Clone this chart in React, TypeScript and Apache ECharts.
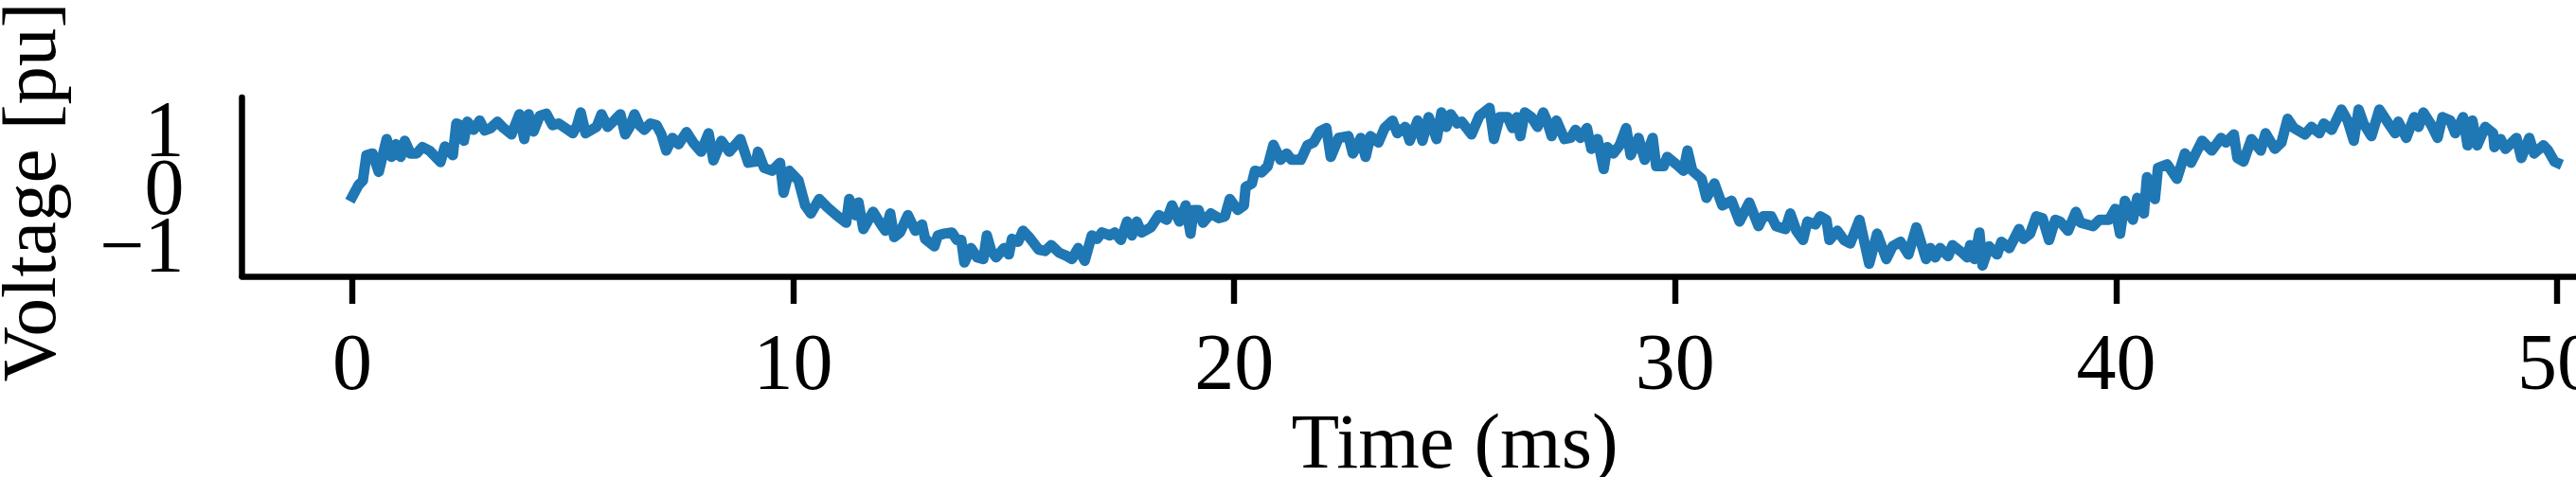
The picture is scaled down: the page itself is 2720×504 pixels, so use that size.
import React, { useEffect, useRef } from "react";
import * as echarts from "echarts";

const timeMs: number[] = [
  0.0, 0.14, 0.24, 0.32, 0.46, 0.6, 0.78, 0.89, 0.99, 1.1, 1.19, 1.32, 1.46, 1.59, 1.75, 2.0, 2.1, 2.28, 2.36, 2.46,
  2.53, 2.61, 2.75, 2.89, 3.0, 3.14, 3.29, 3.43, 3.61, 3.79, 3.9, 4.0, 4.11, 4.25, 4.4, 4.54, 4.68, 4.83, 5.0, 5.1,
  5.18, 5.29, 5.54, 5.65, 5.79, 5.94, 6.08, 6.19, 6.29, 6.4, 6.51, 6.62, 6.76, 6.9, 7.01, 7.12, 7.26, 7.4, 7.58, 7.73,
  7.91, 8.08, 8.19, 8.37, 8.55, 8.8, 8.98, 9.16, 9.2, 9.34, 9.52, 9.7, 9.78, 9.91, 10.12, 10.27, 10.4, 10.59, 10.77, 10.98,
  11.2, 11.27, 11.41, 11.48, 11.59, 11.81, 11.99, 12.09, 12.2, 12.29, 12.42, 12.6, 12.77, 12.92, 12.99, 13.2, 13.28, 13.42, 13.6, 13.71,
  13.81, 13.88, 14.03, 14.17, 14.31, 14.39, 14.49, 14.6, 14.78, 14.89, 14.96, 15.1, 15.21, 15.35, 15.57, 15.71, 15.85, 16.03, 16.21, 16.32,
  16.46, 16.61, 16.77, 16.89, 17.0, 17.18, 17.29, 17.43, 17.57, 17.68, 17.79, 17.9, 18.11, 18.29, 18.47, 18.59, 18.76, 18.9, 19.01, 19.08,
  19.19, 19.29, 19.47, 19.65, 19.79, 19.9, 20.08, 20.22, 20.26, 20.4, 20.47, 20.62, 20.76, 20.89, 21.05, 21.19, 21.3, 21.51, 21.66, 21.8,
  21.94, 22.09, 22.19, 22.37, 22.59, 22.69, 22.87, 22.98, 23.09, 23.27, 23.41, 23.59, 23.7, 23.88, 23.98, 24.16, 24.27, 24.41, 24.59, 24.7,
  24.81, 24.91, 25.06, 25.16, 25.38, 25.56, 25.79, 25.89, 26.02, 26.2, 26.31, 26.41, 26.49, 26.59, 26.74, 26.88, 27.01, 27.09, 27.2, 27.31,
  27.49, 27.63, 27.74, 27.85, 28.0, 28.1, 28.24, 28.38, 28.46, 28.6, 28.74, 28.89, 28.99, 29.17, 29.31, 29.49, 29.57, 29.74, 29.82, 30.03,
  30.19, 30.28, 30.39, 30.6, 30.71, 30.89, 31.07, 31.28, 31.46, 31.68, 31.89, 32.0, 32.18, 32.29, 32.5, 32.61, 32.75, 32.9, 33.0, 33.18,
  33.29, 33.43, 33.5, 33.68, 33.83, 33.97, 34.18, 34.4, 34.58, 34.79, 34.93, 35.11, 35.29, 35.47, 35.69, 35.79, 35.9, 36.01, 36.19, 36.29,
  36.51, 36.62, 36.69, 36.79, 36.9, 36.97, 37.12, 37.3, 37.4, 37.58, 37.8, 37.9, 38.05, 38.19, 38.33, 38.48, 38.62, 38.73, 38.91, 39.09,
  39.19, 39.48, 39.62, 39.84, 39.98, 40.09, 40.2, 40.38, 40.48, 40.63, 40.7, 40.88, 40.95, 41.16, 41.38, 41.56, 41.7, 41.95, 42.17, 42.38,
  42.49, 42.67, 42.75, 42.89, 43.07, 43.28, 43.39, 43.6, 43.75, 43.89, 44.03, 44.28, 44.43, 44.61, 44.71, 44.89, 45.11, 45.25, 45.39, 45.5,
  45.61, 45.79, 45.97, 46.15, 46.33, 46.4, 46.58, 46.76, 46.86, 46.97, 47.15, 47.29, 47.4, 47.58, 47.69, 47.87, 47.97, 48.08, 48.19, 48.37,
  48.55, 48.58, 48.72, 48.83, 49.08, 49.19, 49.37, 49.48, 49.69, 49.8, 49.94, 50.0,
];

const voltagePu: number[] = [
  -0.17, 0.03, 0.11, 0.55, 0.58, 0.26, 0.83, 0.52, 0.74, 0.52, 0.8, 0.58, 0.58, 0.69, 0.63, 0.43, 0.7, 0.55, 1.1, 1.07,
  0.8, 1.13, 0.99, 1.15, 0.98, 1.02, 1.13, 1.02, 0.91, 1.26, 0.83, 1.26, 0.96, 1.23, 1.27, 1.07, 1.1, 1.02, 0.93, 1.07,
  1.29, 0.93, 1.04, 1.26, 1.04, 1.15, 1.26, 0.91, 1.04, 1.26, 1.07, 0.99, 1.1, 1.07, 0.91, 0.63, 0.85, 0.74, 0.95, 0.77,
  0.61, 0.93, 0.46, 0.8, 0.61, 0.83, 0.42, 0.44, 0.61, 0.33, 0.28, 0.42, -0.1, 0.28, 0.11, -0.32, -0.46, -0.21, -0.35, -0.49,
  -0.62, -0.21, -0.49, -0.27, -0.73, -0.43, -0.65, -0.76, -0.46, -0.87, -0.79, -0.49, -0.76, -0.65, -0.9, -1.03, -0.84, -0.81, -0.79, -0.92,
  -0.92, -1.31, -1.06, -1.22, -1.25, -0.84, -1.11, -1.22, -1.06, -1.17, -0.9, -0.95, -0.76, -0.87, -1.09, -1.11, -1.01, -1.14, -1.2, -1.25,
  -1.06, -1.28, -0.84, -0.9, -0.79, -0.84, -0.79, -0.92, -0.6, -0.84, -0.6, -0.79, -0.7, -0.49, -0.57, -0.32, -0.6, -0.32, -0.81, -0.4,
  -0.4, -0.62, -0.46, -0.54, -0.51, -0.21, -0.4, -0.32, 0.0, 0.06, 0.28, 0.25, 0.36, 0.73, 0.47, 0.58, 0.47, 0.47, 0.72, 0.77,
  0.96, 1.02, 0.52, 0.85, 0.88, 0.58, 0.85, 0.52, 0.88, 0.77, 1.02, 1.15, 0.93, 1.04, 0.8, 1.15, 0.8, 1.21, 0.83, 1.29,
  1.04, 1.26, 1.1, 1.13, 0.91, 1.23, 1.37, 0.83, 1.21, 1.21, 1.02, 1.21, 0.88, 1.29, 1.21, 1.04, 1.29, 1.15, 0.88, 1.15,
  0.83, 0.85, 0.99, 0.85, 1.02, 0.66, 0.83, 0.31, 0.69, 0.58, 0.72, 1.02, 0.55, 0.85, 0.47, 0.85, 0.36, 0.36, 0.52, 0.39,
  0.28, 0.63, 0.28, 0.14, -0.19, 0.06, -0.32, -0.24, -0.6, -0.27, -0.68, -0.51, -0.51, -0.68, -0.73, -0.46, -0.76, -0.92, -0.6, -0.65,
  -0.51, -0.57, -0.92, -0.76, -0.92, -0.98, -0.57, -1.33, -0.81, -1.25, -1.03, -0.95, -1.17, -0.7, -1.25, -1.06, -1.22, -1.06, -1.2, -1.01,
  -1.14, -1.22, -1.01, -1.25, -0.79, -1.36, -1.03, -1.17, -0.95, -1.06, -0.73, -0.9, -0.81, -0.51, -0.54, -0.92, -0.57, -0.6, -0.76, -0.43,
  -0.62, -0.68, -0.57, -0.57, -0.38, -0.81, -0.24, -0.57, -0.19, -0.46, 0.17, -0.21, 0.33, 0.39, 0.14, 0.58, 0.42, 0.8, 0.63, 0.85,
  0.77, 0.91, 0.5, 0.44, 0.83, 0.63, 0.93, 0.66, 0.77, 1.18, 1.02, 0.91, 1.04, 0.93, 1.1, 0.99, 1.34, 1.15, 0.8, 1.34,
  1.1, 0.88, 1.34, 1.13, 0.93, 1.13, 0.85, 1.21, 1.04, 1.29, 1.07, 0.85, 1.21, 1.15, 0.93, 1.21, 0.72, 1.15, 0.72, 1.04,
  0.93, 0.69, 0.83, 0.66, 0.85, 0.5, 0.85, 0.58, 0.72, 0.63, 0.44, 0.42,
];

const xTickValues = [0, 10, 20, 30, 40, 50];
const yTickValues = [-1, 0, 1];
const xAxisTitle = "Time (ms)";
const yAxisTitle = "Voltage [pu]";

export default function App() {
  const ref = useRef<HTMLDivElement>(null);

  useEffect(() => {
    if (!ref.current) return;
    const chart = echarts.init(ref.current, null, { renderer: "svg" });
    const font = '"Liberation Serif", "Times New Roman", serif';
    const n = Math.min(timeMs.length, voltagePu.length);
    const points: number[][] = [];
    for (let i = 0; i < n; i++) points.push([timeMs[i], voltagePu[i]]);

    // the y tick labels overlap each other (as in the reference), so they are
    // split over two coincident y axes to keep ECharts from hiding any of them
    const yTicksA = yTickValues.filter((_, i) => i % 2 === 0);
    const yTicksB = yTickValues.filter((_, i) => i % 2 === 1);

    const yLabelStyle = {
      interval: 0,
      margin: 61,
      color: "#000",
      fontFamily: font,
      fontSize: 84,
      hideOverlap: false,
      showMinLabel: true,
      showMaxLabel: true,
      formatter: (v: number) => (v < 0 ? "\u2212" + Math.abs(v) : String(v)),
    };

    chart.setOption({
      animation: false,
      backgroundColor: "#ffffff",
      grid: {
        left: 255.6,
        width: 2560.8,
        top: 103,
        bottom: 212,
        containLabel: false,
        outerBoundsMode: "none",
      },
      xAxis: {
        type: "value",
        min: -2.5,
        max: 52.5,
        name: xAxisTitle,
        nameLocation: "middle",
        nameGap: 117,
        nameTextStyle: { color: "#000", fontFamily: font, fontSize: 83 },
        axisLine: { show: true, onZero: false, lineStyle: { color: "#000", width: 6.5 } },
        axisTick: { show: true, customValues: xTickValues, length: 29, lineStyle: { color: "#000", width: 6.4 } },
        axisLabel: {
          customValues: xTickValues,
          interval: 0,
          margin: 48,
          color: "#000",
          fontFamily: font,
          fontSize: 84,
          hideOverlap: false,
          showMinLabel: true,
          showMaxLabel: true,
        },
        splitLine: { show: false },
      },
      yAxis: [
        {
          type: "value",
          position: "left",
          min: -1.55,
          max: 1.55,
          name: yAxisTitle,
          nameLocation: "middle",
          nameGap: 184,
          nameRotate: 90,
          nameTextStyle: { color: "#000", fontFamily: font, fontSize: 81, padding: [0, 11, 0, 0] },
          axisLine: { show: true, onZero: false, lineStyle: { color: "#000", width: 6.5 } },
          axisTick: { show: false },
          axisLabel: { ...yLabelStyle, customValues: yTicksA },
          splitLine: { show: false },
        },
        {
          type: "value",
          position: "left",
          offset: 0,
          min: -1.55,
          max: 1.55,
          axisLine: { show: false, onZero: false },
          axisTick: { show: false },
          axisLabel: { ...yLabelStyle, customValues: yTicksB },
          splitLine: { show: false },
        },
      ],
      series: [
        {
          type: "line",
          yAxisIndex: 0,
          data: points,
          symbol: "none",
          showSymbol: false,
          lineStyle: { color: "#1f77b4", width: 11, cap: "square", join: "round" },
        },
      ],
    });

    return () => chart.dispose();
  }, []);

  return (
    <div
      ref={ref}
      style={{ position: "absolute", left: 0, top: 0, width: 2720, height: 504 }}
    />
  );
}
